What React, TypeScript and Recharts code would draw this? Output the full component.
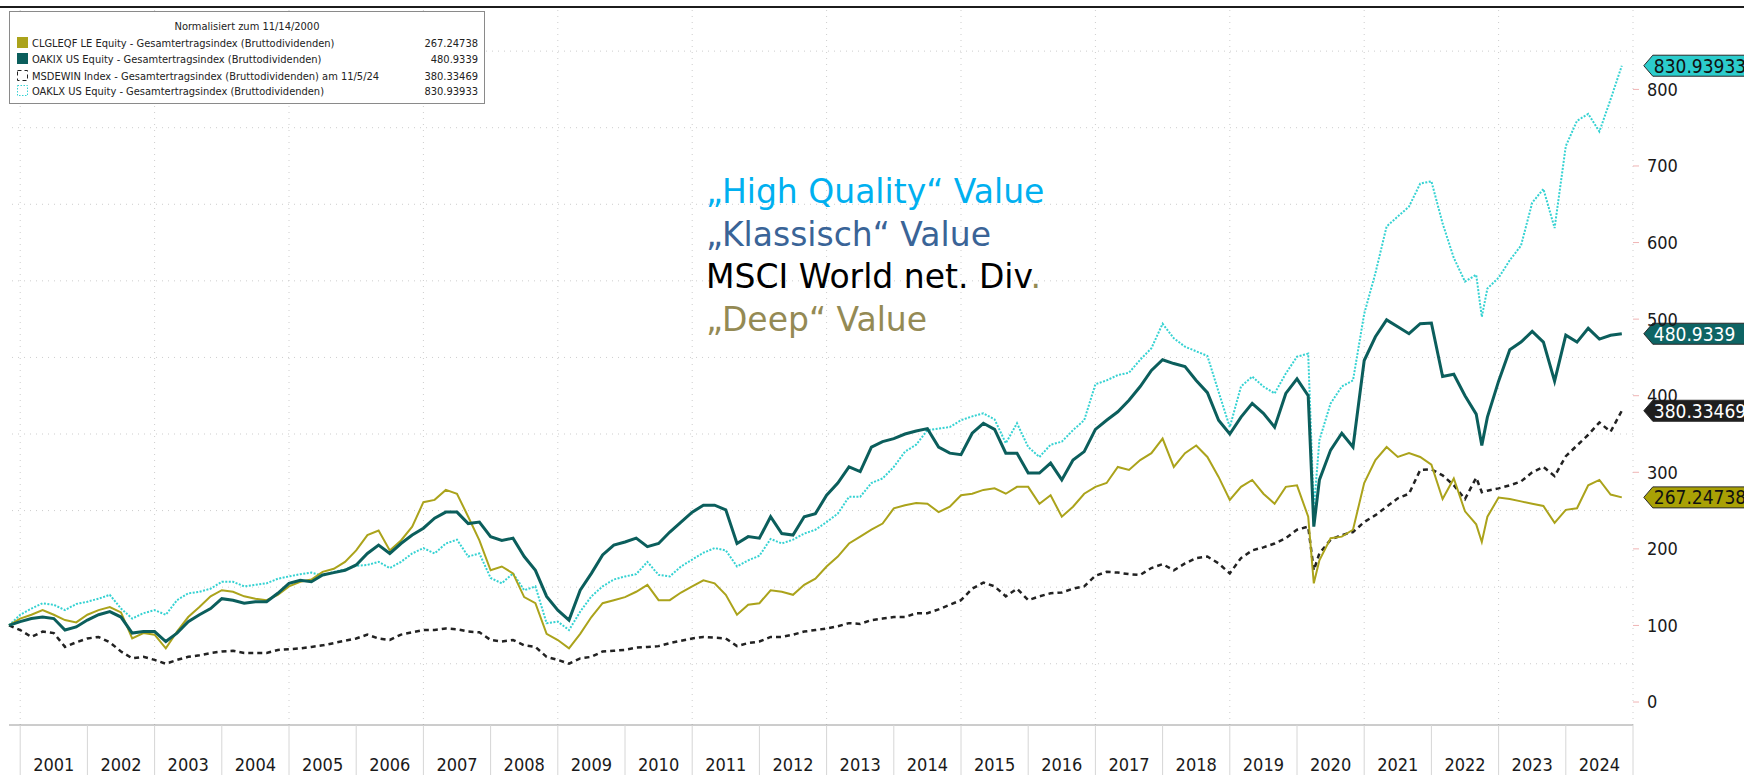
import React from "react"
import { LineChart, Line, XAxis, YAxis, ReferenceLine } from "recharts"

// bimonthly readings (plus the two crash lows in 2020-04 and 2022-10)
const dates = [
  "2000-11",
  "2001-01", "2001-03", "2001-05", "2001-07", "2001-09", "2001-11",
  "2002-01", "2002-03", "2002-05", "2002-07", "2002-09", "2002-11",
  "2003-01", "2003-03", "2003-05", "2003-07", "2003-09", "2003-11",
  "2004-01", "2004-03", "2004-05", "2004-07", "2004-09", "2004-11",
  "2005-01", "2005-03", "2005-05", "2005-07", "2005-09", "2005-11",
  "2006-01", "2006-03", "2006-05", "2006-07", "2006-09", "2006-11",
  "2007-01", "2007-03", "2007-05", "2007-07", "2007-09", "2007-11",
  "2008-01", "2008-03", "2008-05", "2008-07", "2008-09", "2008-11",
  "2009-01", "2009-03", "2009-05", "2009-07", "2009-09", "2009-11",
  "2010-01", "2010-03", "2010-05", "2010-07", "2010-09", "2010-11",
  "2011-01", "2011-03", "2011-05", "2011-07", "2011-09", "2011-11",
  "2012-01", "2012-03", "2012-05", "2012-07", "2012-09", "2012-11",
  "2013-01", "2013-03", "2013-05", "2013-07", "2013-09", "2013-11",
  "2014-01", "2014-03", "2014-05", "2014-07", "2014-09", "2014-11",
  "2015-01", "2015-03", "2015-05", "2015-07", "2015-09", "2015-11",
  "2016-01", "2016-03", "2016-05", "2016-07", "2016-09", "2016-11",
  "2017-01", "2017-03", "2017-05", "2017-07", "2017-09", "2017-11",
  "2018-01", "2018-03", "2018-05", "2018-07", "2018-09", "2018-11",
  "2019-01", "2019-03", "2019-05", "2019-07", "2019-09", "2019-11",
  "2020-01", "2020-03", "2020-04", "2020-05", "2020-07", "2020-09", "2020-11",
  "2021-01", "2021-03", "2021-05", "2021-07", "2021-09", "2021-11",
  "2022-01", "2022-03", "2022-05", "2022-07", "2022-09", "2022-10", "2022-11",
  "2023-01", "2023-03", "2023-05", "2023-07", "2023-09", "2023-11",
  "2024-01", "2024-03", "2024-05", "2024-07", "2024-09", "2024-11",
]

const clgleqf = [
  100,
  109, 114, 120, 114, 107, 104,
  114, 120, 124, 117, 83, 90,
  88, 70, 92, 111, 124, 138,
  146, 144, 138, 135, 133, 140,
  151, 157, 160, 170, 174, 183,
  198, 218, 224, 198, 211, 229,
  261, 264, 277, 272, 242, 211,
  172, 177, 168, 137, 129, 89,
  81, 70, 89, 111, 129, 133,
  137, 144, 153, 133, 133, 143,
  151, 159, 155, 140, 114, 127,
  129, 146, 144, 140, 153, 161,
  177, 190, 207, 216, 225, 233,
  253, 257, 260, 259, 248, 255,
  270, 272, 277, 279, 272, 281,
  281, 259, 270, 242, 255, 272,
  281, 286, 307, 303, 316, 325,
  344, 307, 325, 335, 320, 294,
  264, 281, 290, 272, 259, 281,
  283, 242, 155, 185, 214, 216, 225,
  286, 316, 333, 320, 325, 320,
  310, 265, 292, 249, 232, 209, 242,
  267, 265, 262, 259, 256, 234,
  251, 253, 283, 290, 271, 267.24738,
]

const oakix = [
  100,
  105, 109, 111, 109, 94, 98,
  107, 114, 118, 111, 90, 92,
  92, 79, 90, 105, 114, 122,
  135, 133, 129, 131, 131, 142,
  155, 159, 157, 166, 169, 172,
  179, 194, 205, 194, 207, 218,
  227, 240, 248, 248, 233, 235,
  216, 211, 214, 190, 172, 138,
  120, 107, 146, 168, 192, 205,
  209, 214, 203, 207, 222, 235,
  248, 257, 257, 251, 207, 216,
  214, 242, 220, 218, 242, 246,
  270, 286, 307, 301, 333, 340,
  344, 350, 354, 357, 333, 325,
  323, 351, 364, 356, 325, 325,
  299, 299, 312, 290, 316, 327,
  356, 368, 379, 394, 412, 433,
  447, 442, 438, 420, 404, 368,
  350, 372, 390, 377, 359, 403,
  422, 400, 229, 290, 329, 351, 333,
  446, 477, 499, 490, 481, 494,
  495, 425, 428, 400, 376, 335, 372,
  419, 460, 470, 484, 470, 419,
  479, 470, 488, 474, 479, 480.9339,
]

const msdewin = [
  100,
  94, 85, 92, 90, 72, 78,
  83, 85, 78, 66, 57, 59,
  55, 50, 55, 59, 61, 64,
  66, 67, 64, 64, 64, 68,
  69, 70, 72, 74, 77, 80,
  83, 88, 83, 81, 88, 91,
  94, 94, 96, 95, 92, 91,
  81, 79, 81, 74, 72, 59,
  55, 50, 57, 59, 66, 67,
  68, 71, 72, 73, 77, 80,
  83, 85, 84, 83, 73, 77,
  79, 85, 85, 88, 92, 94,
  96, 99, 103, 102, 107, 109,
  111, 111, 116, 116, 121, 127,
  133, 148, 156, 151, 138, 148,
  133, 138, 142, 143, 148, 151,
  165, 170, 169, 167, 166, 175,
  180, 172, 181, 188, 190, 181,
  168, 188, 198, 202, 207, 214,
  225, 229, 172, 194, 212, 218, 222,
  235, 244, 255, 266, 272, 303,
  304, 296, 283, 265, 293, 274, 276,
  279, 283, 288, 300, 307, 295,
  321, 335, 349, 365, 353, 380.33469,
]

const oaklx = [
  100,
  114, 122, 129, 127, 120, 128,
  131, 135, 140, 122, 109, 116,
  120, 114, 133, 142, 144, 148,
  157, 157, 151, 153, 155, 161,
  164, 167, 169, 165, 170, 173,
  178, 179, 183, 175, 183, 194,
  201, 194, 207, 212, 190, 194,
  162, 155, 168, 146, 151, 103,
  105, 94, 118, 138, 151, 160,
  164, 167, 183, 166, 164, 177,
  186, 195, 201, 198, 177, 185,
  191, 213, 207, 212, 220, 225,
  235, 246, 268, 268, 286, 292,
  307, 327, 336, 355, 357, 359,
  368, 373, 377, 369, 338, 364,
  333, 320, 336, 340, 355, 368,
  415, 420, 427, 430, 447, 462,
  494, 475, 464, 458, 452, 405,
  359, 412, 425, 412, 403, 429,
  451, 455, 251, 342, 390, 412, 420,
  507, 560, 621, 634, 647, 677,
  680, 625, 580, 549, 558, 503, 540,
  554, 577, 596, 652, 670, 619,
  726, 759, 768, 745, 787, 830.93933,
]

const years = [
  2001, 2002, 2003, 2004, 2005, 2006, 2007, 2008, 2009, 2010, 2011, 2012,
  2013, 2014, 2015, 2016, 2017, 2018, 2019, 2020, 2021, 2022, 2023, 2024,
]
const yTicks = [0, 100, 200, 300, 400, 500, 600, 700, 800]
const gridValues = [50, 150, 250, 350, 450, 550, 650, 750, 850]
const gridYears = [2001, 2003, 2005, 2007, 2009, 2011, 2013, 2015, 2017, 2019, 2021, 2023, 2025]

const legendTitle = "Normalisiert zum 11/14/2000"
const notes = [
  { text: "\u201EHigh Quality\u201C Value", color: "#00b0f0" },
  { text: "\u201EKlassisch\u201C Value", color: "#3a6497" },
  { text: "MSCI World net. Div", color: "#000000", tail: "." },
  { text: "\u201EDeep\u201C Value", color: "#948a54" },
]

const series = [
  { key: "clg", name: "CLGLEQF LE Equity - Gesamtertragsindex (Bruttodividenden)", color: "#aba31b", tag: "#a9a105", tagText: "#111", values: clgleqf },
  { key: "oakix", name: "OAKIX US Equity - Gesamtertragsindex (Bruttodividenden)", color: "#0b5e5c", tag: "#0e6464", tagText: "#ffffff", values: oakix },
  { key: "msci", name: "MSDEWIN Index - Gesamtertragsindex (Bruttodividenden) am 11/5/24", color: "#222222", tag: "#1e1e1e", tagText: "#ffffff", values: msdewin },
  { key: "oaklx", name: "OAKLX US Equity - Gesamtertragsindex (Bruttodividenden)", color: "#35d2d2", tag: "#2ccccc", tagText: "#111", values: oaklx },
]

const toYear = (d: string) => {
  const [y, m] = d.split("-").map(Number)
  return y + (m - 1) / 12
}

const data = dates.map((d, i) => {
  const row: any = { t: toYear(d) }
  series.forEach((s) => (row[s.key] = s.values[i]))
  return row
})

const xTicks = [...years.flatMap((y) => [y, y + 0.5]), years[years.length - 1] + 1]
const last = dates.length - 1
const condensed = "'DejaVu Sans Condensed', 'DejaVu Sans', sans-serif"

function YearTick(props: any) {
  const { x, y, payload } = props
  const v = payload.value
  if (Number.isInteger(v)) {
    return <line x1={x} x2={x} y1={y} y2={y + 50} stroke="#d6d6d6" />
  }
  return (
    <text x={x} y={y + 46} textAnchor="middle" fontSize={18} fill="#1a1a1a" fontFamily={condensed} fontStretch="condensed">
      {Math.floor(v)}
    </text>
  )
}

// value tag drawn at the last point of each series
function tagDot(s: any) {
  return (p: any) => {
    if (p.index !== last) return <g key={p.index} />
    const x = p.cx + 22
    const y = p.cy
    const h = 21
    return (
      <g key={p.index}>
        <path
          d={`M${x},${y} L${x + 9},${y - h / 2} L${x + 200},${y - h / 2} L${x + 200},${y + h / 2} L${x + 9},${y + h / 2} Z`}
          fill={s.tag}
          stroke="#2a2a2a"
          strokeWidth={1}
        />
        <text x={x + 10} y={y + 7} fontSize={19} fill={s.tagText} fontFamily={condensed} fontStretch="condensed">
          {String(s.values[last])}
        </text>
      </g>
    )
  }
}

const lineStyle: Record<string, any> = {
  oaklx: { strokeWidth: 2, strokeDasharray: "2 1.5" },
  msci: { strokeWidth: 2.5, strokeDasharray: "5 4" },
  clg: { strokeWidth: 2 },
  oakix: { strokeWidth: 3 },
}
const drawOrder = ["oaklx", "msci", "clg", "oakix"]

function Legend() {
  const rowY = [47, 63, 80, 95]
  return (
    <g fontFamily={condensed} fontStretch="condensed" fontSize={11} fill="#222">
      <rect x={9.5} y={11.5} width={475} height={92} fill="#ffffff" stroke="#8a8a8a" />
      <text x={247} y={30} textAnchor="middle">{legendTitle}</text>
      {series.map((s, i) => (
        <g key={s.key}>
          {i < 2 ? (
            <rect x={17} y={rowY[i] - 10} width={11} height={11} fill={s.color} />
          ) : (
            <rect x={17.5} y={rowY[i] - 9.5} width={10} height={10} fill="none" stroke={s.color} strokeDasharray={i === 2 ? "4 3" : "1.5 1.5"} />
          )}
          <text x={32} y={rowY[i]}>{s.name}</text>
          <text x={478} y={rowY[i]} textAnchor="end">{String(s.values[last])}</text>
        </g>
      ))}
    </g>
  )
}

export default function App() {
  return (
    <div style={{ position: "absolute", left: 0, top: 0, width: 1744, height: 775, background: "#fff", overflow: "hidden" }}>
      <LineChart width={1744} height={775} data={data} margin={{ top: 9, right: 0, bottom: 0, left: 9 }}>
        {gridValues.map((v) => (
          <ReferenceLine key={"h" + v} y={v} stroke="#cdcdcd" strokeDasharray="1 5" />
        ))}
        {gridYears.map((y) => (
          <ReferenceLine key={"v" + y} x={y} stroke="#cdcdcd" strokeDasharray="1 5" />
        ))}
        <XAxis
          dataKey="t"
          type="number"
          domain={[toYear(dates[0]), gridYears[gridYears.length - 1]]}
          ticks={xTicks}
          interval={0}
          tick={<YearTick />}
          tickLine={false}
          tickSize={0}
          tickMargin={0}
          axisLine={{ stroke: "#9a9a9a" }}
          height={50}
        />
        <YAxis
          orientation="right"
          domain={[-30, 905]}
          ticks={yTicks}
          interval={0}
          width={111}
          axisLine={false}
          tickLine={{ stroke: "#f0b4b4" }}
          tickSize={6}
          tickMargin={8}
          tick={{ fill: "#1a1a1a", fontSize: 18, fontFamily: condensed, fontStretch: "condensed" } as any}
        />
        {drawOrder.map((k) => {
          const s = series.find((x) => x.key === k)!
          return (
            <Line
              key={k}
              type="linear"
              dataKey={k}
              stroke={s.color}
              {...lineStyle[k]}
              dot={tagDot(s)}
              activeDot={false}
              isAnimationActive={false}
            />
          )
        })}
      </LineChart>
      <svg width={1744} height={775} style={{ position: "absolute", left: 0, top: 0, pointerEvents: "none" }}>
        <line x1={0} x2={1744} y1={7} y2={7} stroke="#1c1c1c" strokeWidth={2} />
        <Legend />
        <g fontFamily="'DejaVu Sans', sans-serif" fontSize={33}>
          {notes.map((n, i) => (
            <text key={i} x={706} y={203 + i * 42.5} fill={n.color}>
              {n.text}
              {n.tail ? <tspan fill="#948a54">{n.tail}</tspan> : null}
            </text>
          ))}
        </g>
      </svg>
    </div>
  )
}
